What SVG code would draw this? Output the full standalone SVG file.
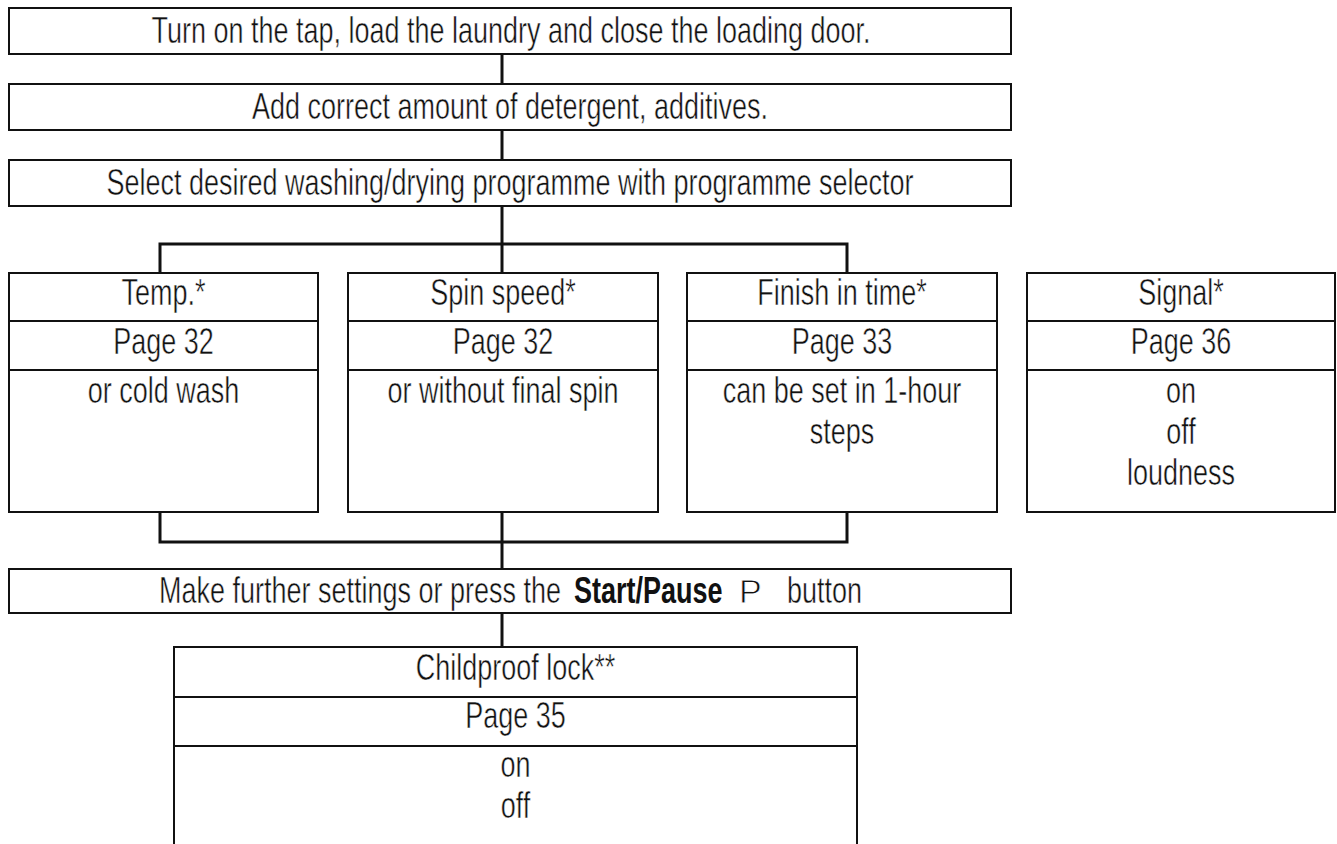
<svg xmlns="http://www.w3.org/2000/svg" width="1337" height="844" viewBox="0 0 1337 844">
<style>
.box{fill:#fff;stroke:#111;stroke-width:2}
.div{stroke:#111;stroke-width:2}
.con{stroke:#111;stroke-width:3;fill:none;stroke-linecap:square}
text{font-family:"Liberation Sans",Arial,sans-serif;font-size:36px;fill:#111;stroke:#fff;stroke-width:0.5}
.c{text-anchor:middle}
.b{font-weight:bold;stroke:none}
.p{font-size:34px;stroke-width:0.8}
</style>
<rect width="1337" height="844" fill="#fff"/>
<g id="connectors">
<line class="con" x1="502" y1="55" x2="502" y2="83"/>
<line class="con" x1="502" y1="131" x2="502" y2="159"/>
<line class="con" x1="502" y1="207" x2="502" y2="272"/>
<polyline class="con" points="160,272 160,244 847,244 847,272"/>
<polyline class="con" points="160,513 160,542 847,542 847,513"/>
<line class="con" x1="502" y1="513" x2="502" y2="568"/>
<line class="con" x1="502" y1="614" x2="502" y2="646"/>
</g>
<g id="n1">
<rect class="box" x="9" y="8" width="1002" height="46"/>
<text class="c" transform="translate(511 43) scale(0.75 1)">Turn on the tap, load the laundry and close the loading door.</text>
</g>
<g id="n2">
<rect class="box" x="9" y="84" width="1002" height="46"/>
<text class="c" transform="translate(510 119) scale(0.75 1)">Add correct amount of detergent, additives.</text>
</g>
<g id="n3">
<rect class="box" x="9" y="160" width="1002" height="46"/>
<text class="c" transform="translate(510 195) scale(0.75 1)">Select desired washing/drying programme with programme selector</text>
</g>
<g id="temp">
<rect class="box" x="9" y="273" width="309" height="239"/>
<line class="div" x1="9" y1="321" x2="318" y2="321"/>
<line class="div" x1="9" y1="370" x2="318" y2="370"/>
<text class="c" transform="translate(163.5 305) scale(0.75 1)">Temp.*</text>
<text class="c" transform="translate(163.5 354) scale(0.75 1)">Page 32</text>
<text class="c" transform="translate(163.5 403) scale(0.75 1)">or cold wash</text>
</g>
<g id="spin">
<rect class="box" x="348" y="273" width="310" height="239"/>
<line class="div" x1="348" y1="321" x2="658" y2="321"/>
<line class="div" x1="348" y1="370" x2="658" y2="370"/>
<text class="c" transform="translate(503 305) scale(0.75 1)">Spin speed*</text>
<text class="c" transform="translate(503 354) scale(0.75 1)">Page 32</text>
<text class="c" transform="translate(503 403) scale(0.75 1)">or without final spin</text>
</g>
<g id="finish">
<rect class="box" x="687" y="273" width="310" height="239"/>
<line class="div" x1="687" y1="321" x2="997" y2="321"/>
<line class="div" x1="687" y1="370" x2="997" y2="370"/>
<text class="c" transform="translate(842 305) scale(0.75 1)">Finish in time*</text>
<text class="c" transform="translate(842 354) scale(0.75 1)">Page 33</text>
<text class="c" transform="translate(842 403) scale(0.75 1)">can be set in 1-hour</text>
<text class="c" transform="translate(842 444) scale(0.75 1)">steps</text>
</g>
<g id="signal">
<rect class="box" x="1027" y="273" width="308" height="239"/>
<line class="div" x1="1027" y1="321" x2="1335" y2="321"/>
<line class="div" x1="1027" y1="370" x2="1335" y2="370"/>
<text class="c" transform="translate(1181 305) scale(0.75 1)">Signal*</text>
<text class="c" transform="translate(1181 354) scale(0.75 1)">Page 36</text>
<text class="c" transform="translate(1181 403) scale(0.75 1)">on</text>
<text class="c" transform="translate(1181 444) scale(0.75 1)">off</text>
<text class="c" transform="translate(1181 485) scale(0.75 1)">loudness</text>
</g>
<g id="n4">
<rect class="box" x="9" y="569" width="1002" height="44"/>
<text transform="translate(159 603) scale(0.75 1)">Make further settings or press the </text>
<text class="b" transform="translate(574 603) scale(0.75 1)">Start/Pause</text>
<text class="p" x="739" y="603">P</text>
<text transform="translate(787 603) scale(0.75 1)">button</text>
</g>
<g id="childproof">
<rect class="box" x="174" y="647" width="683" height="220"/>
<line class="div" x1="174" y1="697" x2="857" y2="697"/>
<line class="div" x1="174" y1="746" x2="857" y2="746"/>
<text class="c" transform="translate(515.5 680) scale(0.75 1)">Childproof lock**</text>
<text class="c" transform="translate(515.5 728) scale(0.75 1)">Page 35</text>
<text class="c" transform="translate(515.5 777) scale(0.75 1)">on</text>
<text class="c" transform="translate(515.5 818) scale(0.75 1)">off</text>
</g>
</svg>
